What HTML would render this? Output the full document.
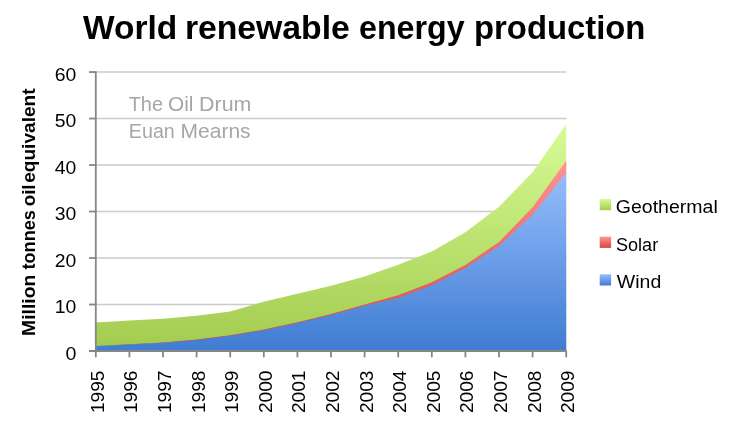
<!DOCTYPE html>
<html lang="en">
<head>
<meta charset="utf-8">
<title>World renewable energy production</title>
<style>
html,body{margin:0;padding:0;background:#fff;}
body{width:731px;height:429px;overflow:hidden;}
svg{display:block;}
text{font-family:"Liberation Sans",sans-serif;fill:#000;}
.t{font-weight:bold;font-size:34.0px;}
.a{font-size:18.7px;}
.y{font-weight:bold;font-size:18.8px;}
.w{font-size:20.3px;fill:#a6a6a6;}
</style>
</head>
<body>
<svg width="731" height="429" viewBox="0 0 731 429">
<defs>
<linearGradient id="gb" gradientUnits="userSpaceOnUse" x1="0" y1="172" x2="0" y2="351"><stop offset="0" stop-color="#96bdfc"/><stop offset="1" stop-color="#3f7cd2"/></linearGradient>
<linearGradient id="gr" gradientUnits="userSpaceOnUse" x1="0" y1="160" x2="0" y2="346"><stop offset="0" stop-color="#ff9592"/><stop offset="1" stop-color="#d84440"/></linearGradient>
<linearGradient id="gg" gradientUnits="userSpaceOnUse" x1="0" y1="124" x2="0" y2="346"><stop offset="0" stop-color="#d7fc96"/><stop offset="1" stop-color="#a3cc4f"/></linearGradient>
<linearGradient id="lb" x1="0" y1="0" x2="0" y2="1"><stop offset="0" stop-color="#96bdfc"/><stop offset="1" stop-color="#3f7cd2"/></linearGradient>
<linearGradient id="lr" x1="0" y1="0" x2="0" y2="1"><stop offset="0" stop-color="#ff9592"/><stop offset="1" stop-color="#d84440"/></linearGradient>
<linearGradient id="lg" x1="0" y1="0" x2="0" y2="1"><stop offset="0" stop-color="#d7fc96"/><stop offset="1" stop-color="#a3cc4f"/></linearGradient>
</defs>
<rect width="731" height="429" fill="#fff"/>
<g stroke="#cbcbcb" stroke-width="1.6" fill="none">
<line x1="95.8" y1="304.51" x2="566.5" y2="304.51"/>
<line x1="95.8" y1="258.02" x2="566.5" y2="258.02"/>
<line x1="95.8" y1="211.53" x2="566.5" y2="211.53"/>
<line x1="95.8" y1="165.03" x2="566.5" y2="165.03"/>
<line x1="95.8" y1="118.54" x2="566.5" y2="118.54"/>
<line x1="95.8" y1="72.05" x2="566.5" y2="72.05"/>
</g>
<polygon fill="url(#gg)" points="95.80,322.41 129.40,320.41 163.00,318.69 196.60,315.76 230.20,311.48 263.80,301.72 297.40,293.82 331.00,285.82 364.60,276.47 398.20,264.80 431.80,251.51 465.40,232.21 499.00,206.64 532.60,172.24 566.20,124.35 566.20,351.00 95.80,351.00"/>
<polygon fill="url(#gr)" points="95.80,346.07 129.40,344.35 163.00,342.40 196.60,339.61 230.20,335.19 263.80,329.52 297.40,322.18 331.00,313.90 364.60,304.42 398.20,295.21 431.80,282.19 465.40,264.99 499.00,241.98 532.60,207.34 566.20,160.85 566.20,173.87 532.60,216.17 499.00,247.32 465.40,269.41 431.80,286.61 398.20,299.16 364.60,307.20 331.00,316.36 297.40,324.50 263.80,331.71 230.20,337.19 196.60,341.00 163.00,343.05 129.40,344.63 95.80,346.12"/>
<polygon fill="url(#gb)" points="95.80,346.12 129.40,344.49 163.00,342.63 196.60,340.03 230.20,335.80 263.80,330.31 297.40,323.11 331.00,314.97 364.60,305.81 398.20,297.77 431.80,285.21 465.40,268.01 499.00,245.93 532.60,214.78 566.20,172.47 566.20,351.00 95.80,351.00"/>
<g stroke="#868686" stroke-width="1.8" fill="none">
<line x1="95.8" y1="71.25" x2="95.8" y2="351.9"/>
<line x1="89" y1="351.0" x2="566.7" y2="351.0"/>
<line x1="89" y1="304.51" x2="95.8" y2="304.51"/>
<line x1="89" y1="258.02" x2="95.8" y2="258.02"/>
<line x1="89" y1="211.53" x2="95.8" y2="211.53"/>
<line x1="89" y1="165.03" x2="95.8" y2="165.03"/>
<line x1="89" y1="118.54" x2="95.8" y2="118.54"/>
<line x1="89" y1="72.05" x2="95.8" y2="72.05"/>
<line x1="95.80" y1="351.0" x2="95.80" y2="357.3"/>
<line x1="129.40" y1="351.0" x2="129.40" y2="357.3"/>
<line x1="163.00" y1="351.0" x2="163.00" y2="357.3"/>
<line x1="196.60" y1="351.0" x2="196.60" y2="357.3"/>
<line x1="230.20" y1="351.0" x2="230.20" y2="357.3"/>
<line x1="263.80" y1="351.0" x2="263.80" y2="357.3"/>
<line x1="297.40" y1="351.0" x2="297.40" y2="357.3"/>
<line x1="331.00" y1="351.0" x2="331.00" y2="357.3"/>
<line x1="364.60" y1="351.0" x2="364.60" y2="357.3"/>
<line x1="398.20" y1="351.0" x2="398.20" y2="357.3"/>
<line x1="431.80" y1="351.0" x2="431.80" y2="357.3"/>
<line x1="465.40" y1="351.0" x2="465.40" y2="357.3"/>
<line x1="499.00" y1="351.0" x2="499.00" y2="357.3"/>
<line x1="532.60" y1="351.0" x2="532.60" y2="357.3"/>
<line x1="566.20" y1="351.0" x2="566.20" y2="357.3"/>
</g>
<text class="t" y="38.9"><tspan x="83.0" textLength="94.3" lengthAdjust="spacingAndGlyphs">World</tspan> <tspan x="184.9" textLength="164.94" lengthAdjust="spacingAndGlyphs">renewable</tspan> <tspan x="359.05" textLength="105.54" lengthAdjust="spacingAndGlyphs">energy</tspan> <tspan x="474.05" textLength="171.37" lengthAdjust="spacingAndGlyphs">production</tspan></text>
<text class="a" x="65.55" y="359.80" textLength="10.93" lengthAdjust="spacingAndGlyphs">0</text>
<text class="a" x="54.85" y="313.31" textLength="21.56" lengthAdjust="spacingAndGlyphs">10</text>
<text class="a" x="54.85" y="266.82" textLength="21.56" lengthAdjust="spacingAndGlyphs">20</text>
<text class="a" x="54.85" y="220.33" textLength="21.56" lengthAdjust="spacingAndGlyphs">30</text>
<text class="a" x="54.85" y="173.83" textLength="21.56" lengthAdjust="spacingAndGlyphs">40</text>
<text class="a" x="54.85" y="127.34" textLength="21.56" lengthAdjust="spacingAndGlyphs">50</text>
<text class="a" x="54.85" y="80.85" textLength="21.56" lengthAdjust="spacingAndGlyphs">60</text>
<text class="a" transform="translate(103.70,411.6) rotate(-90)" x="-1.50" textLength="42.6" lengthAdjust="spacingAndGlyphs">1995</text>
<text class="a" transform="translate(137.30,411.6) rotate(-90)" x="-1.50" textLength="42.6" lengthAdjust="spacingAndGlyphs">1996</text>
<text class="a" transform="translate(170.90,411.6) rotate(-90)" x="-1.50" textLength="42.6" lengthAdjust="spacingAndGlyphs">1997</text>
<text class="a" transform="translate(204.50,411.6) rotate(-90)" x="-1.50" textLength="42.6" lengthAdjust="spacingAndGlyphs">1998</text>
<text class="a" transform="translate(238.10,411.6) rotate(-90)" x="-1.50" textLength="42.6" lengthAdjust="spacingAndGlyphs">1999</text>
<text class="a" transform="translate(271.70,411.6) rotate(-90)" x="-1.50" textLength="42.6" lengthAdjust="spacingAndGlyphs">2000</text>
<text class="a" transform="translate(305.30,411.6) rotate(-90)" x="-1.50" textLength="42.6" lengthAdjust="spacingAndGlyphs">2001</text>
<text class="a" transform="translate(338.90,411.6) rotate(-90)" x="-1.50" textLength="42.6" lengthAdjust="spacingAndGlyphs">2002</text>
<text class="a" transform="translate(372.50,411.6) rotate(-90)" x="-1.50" textLength="42.6" lengthAdjust="spacingAndGlyphs">2003</text>
<text class="a" transform="translate(406.10,411.6) rotate(-90)" x="-1.50" textLength="42.6" lengthAdjust="spacingAndGlyphs">2004</text>
<text class="a" transform="translate(439.70,411.6) rotate(-90)" x="-1.50" textLength="42.6" lengthAdjust="spacingAndGlyphs">2005</text>
<text class="a" transform="translate(473.30,411.6) rotate(-90)" x="-1.50" textLength="42.6" lengthAdjust="spacingAndGlyphs">2006</text>
<text class="a" transform="translate(506.90,411.6) rotate(-90)" x="-1.50" textLength="42.6" lengthAdjust="spacingAndGlyphs">2007</text>
<text class="a" transform="translate(540.50,411.6) rotate(-90)" x="-1.50" textLength="42.6" lengthAdjust="spacingAndGlyphs">2008</text>
<text class="a" transform="translate(574.10,411.6) rotate(-90)" x="-1.50" textLength="42.6" lengthAdjust="spacingAndGlyphs">2009</text>
<text class="y" transform="translate(35.3,334.7) rotate(-90)"><tspan x="-1.25" textLength="61.2" lengthAdjust="spacingAndGlyphs">Million</tspan> <tspan x="65.25" textLength="59.28" lengthAdjust="spacingAndGlyphs">tonnes</tspan> <tspan x="128.4" textLength="21.86" lengthAdjust="spacingAndGlyphs">oil</tspan> <tspan x="151.9" textLength="94.39" lengthAdjust="spacingAndGlyphs">equivalent</tspan></text>
<text class="w" y="111"><tspan x="128.65" textLength="34.36" lengthAdjust="spacingAndGlyphs">The</tspan> <tspan x="168.0" textLength="25.41" lengthAdjust="spacingAndGlyphs">Oil</tspan> <tspan x="199.1" textLength="52.33" lengthAdjust="spacingAndGlyphs">Drum</tspan></text>
<text class="w" y="137.8"><tspan x="128.85" textLength="45.97" lengthAdjust="spacingAndGlyphs">Euan</tspan> <tspan x="180.55" textLength="70.02" lengthAdjust="spacingAndGlyphs">Mearns</tspan></text>
<rect x="599.7" y="199.0" width="11.4" height="11.2" fill="url(#lg)"/>
<text class="a" x="615.85" y="212.6" textLength="101.9" lengthAdjust="spacingAndGlyphs">Geothermal</text>
<rect x="599.7" y="236.7" width="11.4" height="11.2" fill="url(#lr)"/>
<text class="a" x="615.95" y="250.5" textLength="42.23" lengthAdjust="spacingAndGlyphs">Solar</text>
<rect x="599.7" y="274.3" width="11.4" height="11.2" fill="url(#lb)"/>
<text class="a" x="616.85" y="287.8" textLength="44.38" lengthAdjust="spacingAndGlyphs">Wind</text>
</svg>
</body>
</html>
